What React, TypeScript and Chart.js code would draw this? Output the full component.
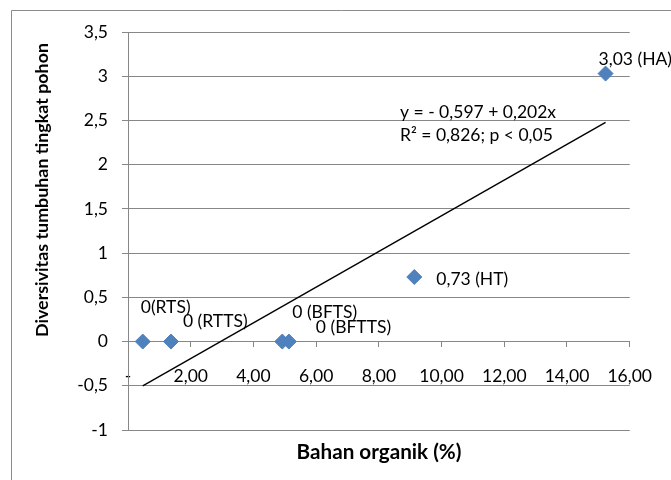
import React, { useEffect, useRef } from "react";
import { Chart, registerables } from "chart.js";

Chart.register(...registerables);

// ---- Data ----
const siteCodes = ["RTS", "RTTS", "BFTS", "BFTTS", "HT", "HA"];
const pointLabels = ["0(RTS)", "0 (RTTS)", "0 (BFTS)", "0 (BFTTS)", "0,73 (HT)", "3,03 (HA)"];
const organicMatter = [0.47, 1.37, 4.92, 5.13, 9.13, 15.23];
const diversity = [0, 0, 0, 0, 0.73, 3.03];
const trendX = [0.47, 15.23];
const trendY = [-0.502, 2.479];
const equationLines = ["y = - 0,597 + 0,202x", "R\u00B2 = 0,826; p < 0,05"];
const xTitle = "Bahan organik (%)";
const yTitle = "Diversivitas tumbuhan tingkat pohon";

const FONT = "Lato, 'Open Sans', sans-serif";
const GRID = "#878787";
const BLUE = "#4F81BD";

// label placement relative to each point (dx from point, dy of text centre)
const labelOffsets = [
  [-2, -34],
  [12, -20],
  [10, -29],
  [27, -14],
  [22, 2],
  [-7, -14],
];

const fmt = (v: number) => String(v).replace(".", ",");

const decorPlugin = {
  id: "decor",
  beforeDraw(chart: any) {
    const ctx = chart.ctx;
    ctx.save();
    ctx.fillStyle = "#fff";
    ctx.fillRect(0, 0, chart.width, chart.height);
    ctx.strokeStyle = "#8c8c8c";
    ctx.lineWidth = 1;
    ctx.beginPath();
    ctx.moveTo(11.5, chart.height + 2);
    ctx.lineTo(11.5, 10.5);
    ctx.lineTo(chart.width + 2, 10.5);
    ctx.stroke();
    ctx.restore();
  },
  afterDatasetsDraw(chart: any) {
    const ctx = chart.ctx;
    const meta = chart.getDatasetMeta(0);
    ctx.save();
    ctx.fillStyle = "#000";
    ctx.font = `17.5px ${FONT}`;
    ctx.textBaseline = "middle";
    ctx.textAlign = "left";
    meta.data.forEach((el: any, i: number) => {
      const [dx, dy] = labelOffsets[i];
      ctx.fillText(pointLabels[i], el.x + dx, el.y + dy);
    });
    // regression equation
    const ca = chart.chartArea;
    ctx.fillText(equationLines[0], ca.left + 272, ca.top + 80);
    ctx.fillText(equationLines[1], ca.left + 272, ca.top + 103);

    // axis titles (fitted to reference widths)
    const fitFont = (text: string, target: number) => {
      ctx.font = `bold 20px ${FONT}`;
      const w = ctx.measureText(text).width;
      const size = (20 * target) / w;
      ctx.font = `bold ${size.toFixed(2)}px ${FONT}`;
    };
    ctx.textAlign = "center";
    fitFont(xTitle, 165);
    ctx.fillText(xTitle, 379, 452);
    ctx.save();
    ctx.translate(42, 190);
    ctx.rotate(-Math.PI / 2);
    fitFont(yTitle, 294);
    ctx.fillText(yTitle, 0, 0);
    ctx.restore();
    ctx.restore();
  },
};

export default function App() {
  const ref = useRef<HTMLCanvasElement | null>(null);

  useEffect(() => {
    if (!ref.current) return;
    const chart = new Chart(ref.current, {
      type: "scatter",
      data: {
        datasets: [
          {
            label: "Diversitas",
            data: organicMatter.map((x, i) => ({ x, y: diversity[i] })),
            pointStyle: "rectRot",
            pointRadius: 7.5,
            pointHoverRadius: 7.5,
            backgroundColor: BLUE,
            borderColor: BLUE,
            borderWidth: 1,
            order: 1,
          },
          {
            type: "line",
            label: "Trend",
            data: trendX.map((x, i) => ({ x, y: trendY[i] })),
            borderColor: "#000",
            borderWidth: 1.4,
            pointRadius: 0,
            fill: false,
            order: 2,
          } as any,
        ],
      },
      options: {
        responsive: false,
        animation: false,
        devicePixelRatio: 1,
        layout: { padding: { left: 0, top: 32, right: 40, bottom: 50 } },
        plugins: {
          legend: { display: false },
          tooltip: { enabled: false },
        },
        scales: {
          x: {
            type: "linear",
            position: { y: 0 } as any,
            min: 0,
            max: 16,
            grid: {
              drawOnChartArea: false,
              drawTicks: true,
              tickLength: 5,
              color: GRID,
            },
            border: { display: true, color: GRID, width: 1 },
            ticks: {
              stepSize: 2,
              autoSkip: false,
              maxRotation: 0,
              padding: 19,
              color: "#000",
              font: { family: FONT, size: 17.5 },
              callback: (v: any) => (Number(v) === 0 ? "-" : Number(v).toFixed(2).replace(".", ",")),
            },
          },
          y: {
            type: "linear",
            min: -1,
            max: 3.5,
            afterFit: (s: any) => {
              s.width = 128;
            },
            grid: { color: GRID, tickLength: 6, drawTicks: true },
            border: { display: true, color: GRID, width: 1 },
            ticks: {
              stepSize: 0.5,
              padding: 14,
              color: "#000",
              font: { family: FONT, size: 17.5 },
              callback: (v: any) => fmt(Number(v)),
            },
          },
        },
      },
      plugins: [decorPlugin],
    });
    return () => chart.destroy();
  }, []);

  return (
    <div style={{ position: "absolute", left: 0, top: 0, width: 671, height: 480 }}>
      <canvas ref={ref} width={671} height={480} style={{ display: "block" }} />
    </div>
  );
}
